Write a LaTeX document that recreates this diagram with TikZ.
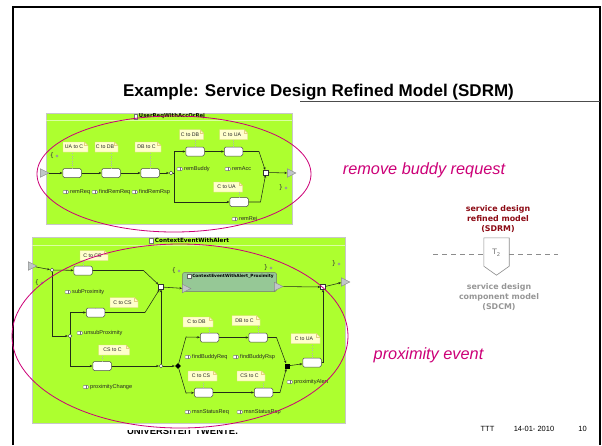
\documentclass[tikz,border=0pt]{standalone}
\usepackage{fontspec}
\setmainfont{Liberation Sans}
\newfontfamily\dvsans{DejaVu Sans}
\usetikzlibrary{arrows.meta,shapes.geometric}

\definecolor{lime}{RGB}{173,255,47}
\definecolor{hot}{RGB}{204,0,119}
\definecolor{notefill}{RGB}{255,255,204}
\definecolor{notedraw}{RGB}{228,208,130}
\definecolor{compfill}{RGB}{150,200,150}
\definecolor{portfill}{RGB}{192,198,200}
\definecolor{sdrm}{RGB}{140,10,20}
\definecolor{sdcm}{RGB}{150,150,150}
\definecolor{flow}{RGB}{35,45,25}

\tikzset{
  task/.style={draw=black!70, fill=white, rounded corners=1.5pt, minimum width=18.5pt,
    minimum height=9pt, inner sep=0pt, line width=0.5pt},
  port/.style={isosceles triangle, isosceles triangle stretches, minimum width=8.5pt,
    minimum height=8.5pt, inner sep=0pt, draw=black!45, fill=portfill, line width=0.4pt},
  dec/.style={circle, draw=black!80, fill=white, minimum size=3.8pt, inner sep=0pt, line width=0.45pt},
  mrg/.style={rectangle, draw=black!80, fill=white, minimum size=4.6pt, inner sep=0pt, line width=0.45pt},
  joinbox/.style={rectangle, fill=black, minimum size=5pt, inner sep=0pt},
  forkbox/.style={diamond, fill=black, minimum size=6pt, inner sep=0pt},
  flowline/.style={draw=flow, line width=0.55pt},
  flowarr/.style={flowline, -{Stealth[length=2.8pt,width=2.3pt]}},
  notetxt/.style={font=\fontsize{5.2}{6}\selectfont, inner sep=0.3pt, text=black!85},
  tieline/.style={draw=black!30, dotted, line width=0.4pt},
  oplbl/.style={font=\fontsize{5.6}{7}\selectfont, anchor=west, inner sep=0pt, text=black!85},
  bracemark/.style={font=\dvsans\fontsize{6.5}{7}\selectfont, inner sep=0pt, text=black!80},
  lane/.style={fill=lime, draw=black!22, line width=0.6pt},
  lanehd/.style={font=\dvsans\bfseries\fontsize{5.3}{6}\selectfont, inner sep=0pt},
  comphd/.style={font=\dvsans\bfseries\fontsize{4.3}{5}\selectfont, inner sep=0pt},
  hoop/.style={draw=hot, line width=0.8pt},
  callout/.style={font=\itshape\fontsize{16.3}{19}\selectfont, text=hot, inner sep=0pt},
  foot/.style={font=\fontsize{7.5}{9}\selectfont, inner sep=0pt},
  modeltxt/.style={font=\dvsans\bfseries\fontsize{7.9}{10}\selectfont, align=center, inner sep=0pt},
}

% yellow annotation card with a folded corner: name, centre x, centre y, width, text
\newcommand\notecard[5]{%
  \path[fill=notefill, draw=notedraw, line width=0.4pt]
    ({#2-#4/2},{#3-5}) -- ({#2+#4/2-3.5},{#3-5}) -- ({#2+#4/2},{#3-1.5})
    -- ({#2+#4/2},{#3+5}) -- ({#2-#4/2},{#3+5}) -- cycle;
  \draw[notedraw, line width=0.4pt] ({#2+#4/2-3.5},{#3-5}) -- ({#2+#4/2-3.5},{#3-1.5}) -- ({#2+#4/2},{#3-1.5});
  \node[notetxt] (#1) at ({#2-1.5},#3) {#5};
  \coordinate (#1b) at (#2,{#3+5});
}
% dotted tie from a task up to its card
\newcommand\tie[2]{\draw[tieline] (#1.north) -- (#1.north |- #2b);}
% operation label with its small icon: name, x, y, text
\newcommand\oplabel[4]{%
  \draw[black!55, fill=white, line width=0.35pt, rounded corners=1pt] ({#2},{#3-1.6}) rectangle ({#2+5.6},{#3+1.6});
  \draw[black!55, line width=0.3pt] ({#2+2.8},{#3-1.6}) -- ({#2+2.8},{#3+1.6});
  \node[oplbl] (#1) at ({#2+7},#3) {#4};
}
% scope brace with its event marker: name, x, y, brace
\newcommand\scopemark[4]{%
  \node[bracemark] (#1) at (#2,#3) {#4};
  \draw[black!50, fill=black!15, line width=0.3pt] ({#2+5},#3) circle (1.2pt);
}

\begin{document}
\begin{tikzpicture}[x=1pt,y=-1pt]
\useasboundingbox (0,0) rectangle (602,445);

% slide frame and heading
\draw[line width=2.2pt] (13,445) -- (13,7) -- (600,7) -- (600,445);
\draw[black!70, line width=0.8pt] (300,101) -- (600,101);
\node[font=\bfseries\fontsize{17}{20}\selectfont, inner sep=0pt] (title) at (318.5,92)
  {Example: Service Design Refined Model (SDRM)};

% footer
\node[font=\bfseries\fontsize{9.5}{11}\selectfont, anchor=base, inner sep=0pt] (uni) at (182.5,434) {UNIVERSITEIT TWENTE.};
\fill[white] (118,418) rectangle (250,430);
\node[foot] (ttt) at (487.5,429) {TTT};
\node[foot] (date) at (534,429) {14-01- 2010};
\node[foot] (page) at (582.5,429) {10};

% ---------------- upper lane: UserReqWithAccOrRej ----------------
\path[lane] (46,113) rectangle (292,224);
\draw[white!55!lime, line width=0.5pt] (46,120.5) -- (292,120.5);
\node[lanehd] (h1) at (172,116.5) {UserReqWithAccOrRej};
\draw[black!55, fill=white, line width=0.3pt] ([xshift=-5pt,yshift=-2.2pt]h1.west) rectangle ([xshift=-1.2pt,yshift=2.2pt]h1.west);

\node[port] (in1) at (43,173) {};
\scopemark{b1}{52}{156}{\{}
\node[task] (t1) at (72,173) {};
\node[task] (t2) at (111,173) {};
\node[task] (t3) at (150,173) {};
\notecard{n1}{75.5}{147}{25}{UA to C}
\notecard{n2}{106.5}{147}{23}{C to DB}
\notecard{n3}{148}{147}{26}{DB to C}
\oplabel{l1}{63}{192}{remReq}
\oplabel{l2}{92}{192}{findRemReq}
\oplabel{l3}{132}{192}{findRemRsp}
\node[dec] (d1) at (171,173) {};
\node[task] (t4) at (195,151.5) {};
\node[task] (t5) at (233.5,151.5) {};
\node[task] (t6) at (239,202) {};
\notecard{n4}{191.5}{134.5}{24}{C to DB}
\notecard{n5}{233.5}{134.5}{28}{C to UA}
\notecard{n6}{228}{187}{29}{C to UA}
\oplabel{l4}{177}{169}{remBuddy}
\oplabel{l5}{225}{169}{remAcc}
\oplabel{l6}{232}{219}{remRej}
\node[mrg] (m1) at (266,172.5) {};
\node[port] (out1) at (290,173) {};
\scopemark{b2}{281}{188}{\}}

\foreach \t/\n in {t1/n1,t2/n2,t3/n3,t4/n4,t5/n5,t6/n6} {\tie{\t}{\n}}
\draw[flowarr] (in1) -- (t1);
\draw[flowarr] (t1) -- (t2);
\draw[flowarr] (t2) -- (t3);
\draw[flowarr] (t3) -- (d1);
\draw[flowarr] (d1.east) -- ++(1.5,0) |- (t4);
\draw[flowarr] (d1.east) -- ++(1.5,0) |- (t6);
\draw[flowarr] (t4) -- (t5);
\draw[flowarr] (t5.east) -- ++(16,0) -- (m1);
\draw[flowarr] (t6.east) -- ++(12,0) -- (m1);
\draw[flowarr] (m1) -- (out1);

% ---------------- lower lane: ContextEventWithAlert ----------------
\path[lane] (32,237) rectangle (345,423);
\draw[white!55!lime, line width=0.5pt] (32,245) -- (345,245);
\node[lanehd, font=\dvsans\bfseries\fontsize{5.7}{6}\selectfont] (h2) at (192,240.5) {ContextEventWithAlert};
\draw[black!55, fill=white, line width=0.3pt] ([xshift=-5.5pt,yshift=-2.4pt]h2.west) rectangle ([xshift=-1.3pt,yshift=2.4pt]h2.west);

% nested composite
\node[draw=black!55, fill=compfill, rounded corners=2pt, minimum width=94pt, minimum height=19pt,
  inner sep=0pt, line width=0.5pt] (cp) at (229.5,282) {};
\node[comphd] (cph) at (233,276.5) {ContextEventWithAlert\_Proximity};
\draw[black!60, fill=white, line width=0.3pt] ([xshift=-4.5pt,yshift=-2pt]cph.west) rectangle ([xshift=-1.2pt,yshift=2pt]cph.west);
\node[port] (cpin) at (185,288.5) {};
\node[port] (cpout) at (277,286.5) {};
\scopemark{b4}{174}{271}{\{}
\scopemark{b5}{266}{268}{\}}

\node[port] (in2) at (31,266) {};
\scopemark{b3}{37}{283}{\{}
\node[dec] (d2) at (52,270) {};
\node[task] (tA) at (83,270.5) {};
\notecard{nA}{94}{255.5}{28}{C to CS}
\oplabel{lA}{65}{292}{subProximity}
\node[mrg] (s1) at (161,287) {};
\node[dec] (d3) at (70,336) {};
\node[task] (tB) at (95.5,312.5) {};
\notecard{nB}{124}{302.5}{28}{C to CS}
\oplabel{lB}{77}{333}{unsubProximity}
\node[task] (tC) at (102,366) {};
\notecard{nC}{114}{350}{31}{CS to C}
\oplabel{lC}{83}{387}{proximityChange}
\node[dec] (d4) at (161,366) {};
\node[forkbox] (f1) at (178,366) {};
\node[task] (tD) at (209.5,337.5) {};
\notecard{nD}{198}{322}{30}{C to DB}
\node[task] (tE) at (258,337.5) {};
\notecard{nE}{246}{320.5}{28}{DB to C}
\oplabel{lD}{185}{357}{findBuddyReq}
\oplabel{lE}{233}{357}{findBuddyRsp}
\node[task] (tF) at (203.5,392.5) {};
\notecard{nF}{202.5}{376}{29}{C to CS}
\node[task] (tG) at (263.5,392.5) {};
\notecard{nG}{251}{376}{28}{CS to C}
\oplabel{lF}{185}{412}{msnStatusReq}
\oplabel{lG}{237}{412}{msnStatusRsp}
\node[joinbox] (j1) at (287,366) {};
\node[task] (tH) at (312,362.5) {};
\notecard{nH}{305.5}{338.5}{29}{C to UA}
\oplabel{lH}{287}{382}{proximityAlert}
\node[mrg] (s2) at (323,287) {};
\node[port] (out2) at (344,282) {};
\scopemark{b6}{334}{264}{\}}

\foreach \t/\n in {tA/nA,tB/nB,tC/nC,tD/nD,tE/nE,tF/nF,tG/nG,tH/nH} {\tie{\t}{\n}}
\draw[flowarr] (in2) -- (d2);
\draw[flowarr] (d2) -- (tA);
\draw[flowarr] (tA.east) -- ++(51,0) -- (s1);
\draw[flowarr] (d2) |- (d3);
\draw[flowarr] (d3) |- (tB);
\draw[flowarr] (tB.east) -- ++(40,0) -- (s1);
\draw[flowarr] (d3) |- (tC);
\draw[flowarr] (tC) -- (d4);
\draw[flowarr] (d4) -- (s1);
\draw[flowarr] (d4) -- (f1);
\draw[flowarr] (f1) -- ++(8,-29) -- (tD);
\draw[flowarr] (tD) -- (tE);
\draw[flowarr] (tE.east) -- ++(9,0) -- (j1);
\draw[flowarr] (f1) -- ++(8,27) -- (tF);
\draw[flowarr] (tF) -- (tG);
\draw[flowarr] (tG.east) -- ++(7,0) -- (j1);
\draw[flowarr] (j1) -- (tH);
\draw[flowarr] (tH.east) -| (s2);
\draw[flowarr] (s1) -- (cpin);
\draw[flowarr] (cpout) -- (s2);
\draw[flowarr] (s2) -- (out2);

% ---------------- highlight rings and their captions ----------------
\draw[hoop] (174,174) ellipse [x radius=137pt, y radius=58pt];
\draw[hoop] (180,336) ellipse [x radius=168pt, y radius=92pt];
\node[callout] (rbr) at (424,170) {remove buddy request};
\node[callout] (pev) at (428.5,355) {proximity event};

% ---------------- model level marker ----------------
\node[modeltxt, text=sdrm] (sdrm) at (498,219) {service design\\refined model\\(SDRM)};
\node[minimum width=25pt, minimum height=37pt, inner sep=0pt] (tstage) at (496.5,256.5) {};
\draw[black!45, fill=white, line width=0.6pt] (tstage.north west) -- (tstage.north east)
  -- ([yshift=9pt]tstage.south east) -- (tstage.south) -- ([yshift=9pt]tstage.south west) -- cycle;
\node[font=\dvsans\fontsize{7.5}{9}\selectfont, text=black!55, inner sep=0pt] (tlbl) at (496.5,253) {T\textsubscript{2}};
\coordinate (dashL) at (433,254);
\coordinate (dashR) at (558,254);
\draw[black!45, line width=0.8pt, dash pattern=on 5pt off 4pt] (dashL) -- (dashL -| tstage.west);
\draw[black!45, line width=0.8pt, dash pattern=on 5pt off 4pt] (tstage.east |- dashR) -- (dashR);
\node[modeltxt, text=sdcm] (sdcm) at (499,297) {service design\\component model\\(SDCM)};
\end{tikzpicture}
\end{document}
